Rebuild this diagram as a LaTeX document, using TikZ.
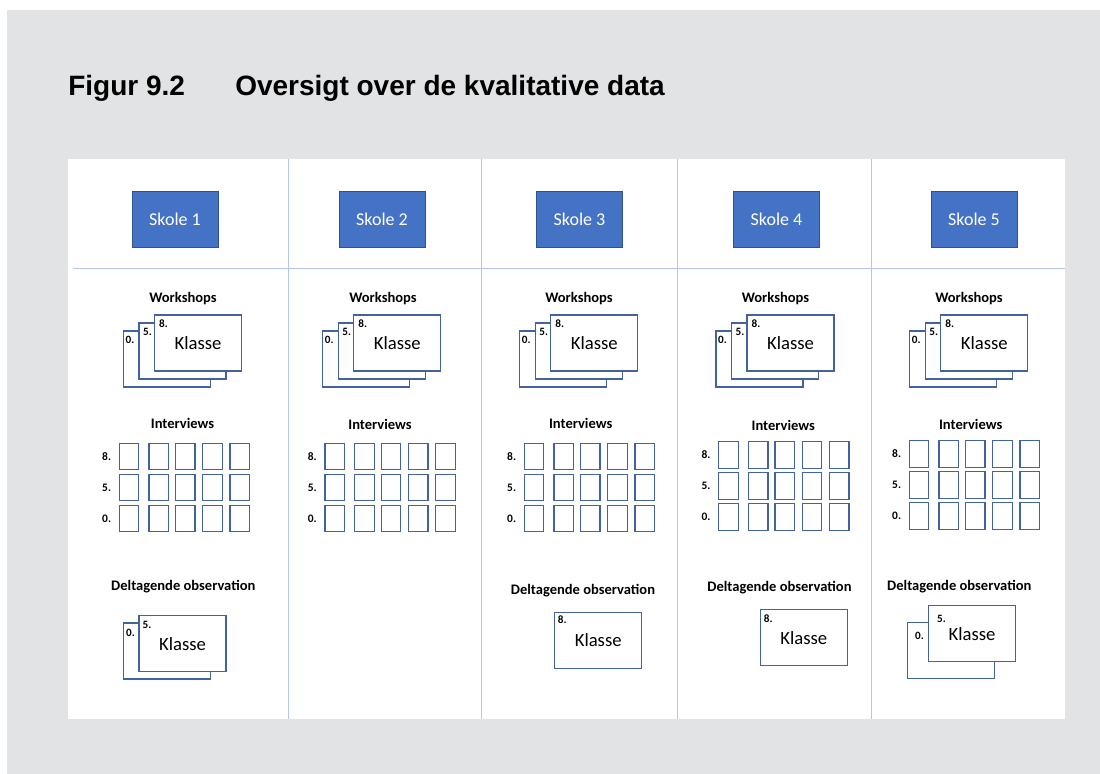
\documentclass[tikz,border=0pt]{standalone}
\usepackage{fontspec}
\setmainfont{Carlito}
\newfontfamily\titlefont{Liberation Sans}
\usepackage{tikz}
\usetikzlibrary{positioning}

\definecolor{bggrey}{RGB}{226,227,229}
\definecolor{skolefill}{RGB}{68,114,196}
\definecolor{skoleline}{RGB}{47,82,143}
\definecolor{cardline}{RGB}{66,98,160}
\definecolor{divline}{RGB}{178,198,234}

\begin{document}
\begin{tikzpicture}[
  x=0.75pt, y=-0.75pt,
  titletxt/.style={inner sep=0, anchor=base west,
    font=\titlefont\bfseries\fontsize{21}{25}\selectfont},
  skole/.style={draw=skoleline, line width=0.7pt, fill=skolefill,
    text=white, minimum width=64.5pt, minimum height=42pt,
    font=\fontsize{13.5}{16}\selectfont},
  head/.style={inner sep=0, anchor=base,
    font=\bfseries\fontsize{10.9}{13}\selectfont},
  card/.style={draw=cardline, line width=0.95pt, fill=white,
    minimum width=65.25pt, minimum height=42pt, inner sep=0,
    font=\fontsize{14}{16}\selectfont},
  num/.style={inner sep=0, anchor=west,
    font=\bfseries\fontsize{8.4}{9}\selectfont},
  ivbox/.style={draw=cardline, line width=0.95pt, fill=white,
    minimum width=14.6pt, minimum height=19.9pt, inner sep=0},
  rowlbl/.style={inner sep=0, font=\bfseries\fontsize{8.6}{9}\selectfont},
  divider/.style={divline, line width=0.7pt},
]
  \useasboundingbox (0,0) rectangle (1100,774);
  \fill[bggrey] (7,10) rectangle (1100,774);
  \fill[white] (68,159) rectangle (1065,719);

  % column grid
  \foreach \x in {288,481,677,871}
    \draw[divider] (\x,159) -- (\x,719);
  \draw[divider] (73,268) -- (1065,268);

  % title
  \node[titletxt] (fignr) at (68,96) {Figur 9.2};
  \node[titletxt] (figtitle) at (235,96) {Oversigt over de kvalitative data};

  % schools
  \foreach \i/\x in {1/175, 2/382, 3/579.5, 4/776.5, 5/974}
    \node[skole] (skole\i) at (\x,219) {Skole \i};

  % Workshops: three stacked classes per school
  \foreach \c/\bx/\lx in {1/167/183, 2/366.3/383, 3/563.3/579,
                          4/759.5/775.5, 5/953.3/969} {
    \node[head] (wshead\c) at (\lx,302) {Workshops};
    \node[card] (ws\c-a) at (\bx,359) {};
    \node[card] (ws\c-b) at (\bx+15.5,351) {};
    \node[card] (ws\c-c) at (\bx+31,343) {Klasse};
    \node[num] (wsnum\c-a) at ([shift={(2.5,9.5)}]ws\c-a.north west) {0.};
    \node[num] (wsnum\c-b) at ([shift={(4.5,9.5)}]ws\c-b.north west) {5.};
    \node[num] (wsnum\c-c) at ([shift={(5,9)}]ws\c-c.north west) {8.};
  }

  % Interviews: 3 grades x 5 pupils
  \foreach \c/\lx/\ly/\gx/\gy in {1/182.5/428.3/119.3/456.5,
                                  2/380/429.3/325/456.5,
                                  3/580.7/428/524.3/456.5,
                                  4/783.3/430/718.7/455,
                                  5/970.7/429/909.3/454} {
    \node[head] (ivhead\c) at (\lx,\ly) {Interviews};
    \foreach \r/\k in {0/8., 1/5., 2/0.} {
      \foreach \j/\dx in {1/0, 2/29.7, 3/56.3, 4/83.5, 5/110.8}
        \node[ivbox] (iv\c-\r-\j) at (\gx+9.75+\dx,\gy+31*\r) {};
      \node[rowlbl, left=5.5pt of iv\c-\r-1] (ivlbl\c-\r) {\k};
    }
  }

  % Deltagende observation
  \node[head] (obshead1) at (183.3,590.7) {Deltagende observation};
  \node[card] (obs1-a) at (167,651) {};
  \node[card] (obs1-b) at (182.5,643.7) {Klasse};
  \node[num] (obsnum1-a) at ([shift={(3,10)}]obs1-a.north west) {0.};
  \node[num] (obsnum1-b) at ([shift={(4,10)}]obs1-b.north west) {5.};

  \node[head] (obshead3) at (583,594) {Deltagende observation};
  \node[card] (obs3) at (598.2,640.3) {Klasse};
  \node[num] (obsnum3) at ([shift={(3.5,8)}]obs3.north west) {8.};

  \node[head] (obshead4) at (779.5,591.3) {Deltagende observation};
  \node[card] (obs4) at (803.8,637.7) {Klasse};
  \node[num] (obsnum4) at ([shift={(4,10)}]obs4.north west) {8.};

  \node[head] (obshead5) at (959.3,590.7) {Deltagende observation};
  \node[card] (obs5-a) at (951,650.2) {};
  \node[card] (obs5-b) at (972,633.8) {Klasse};
  \node[num] (obsnum5-a) at ([shift={(8,14)}]obs5-a.north west) {0.};
  \node[num] (obsnum5-b) at ([shift={(9,13.3)}]obs5-b.north west) {5.};
\end{tikzpicture}
\end{document}
